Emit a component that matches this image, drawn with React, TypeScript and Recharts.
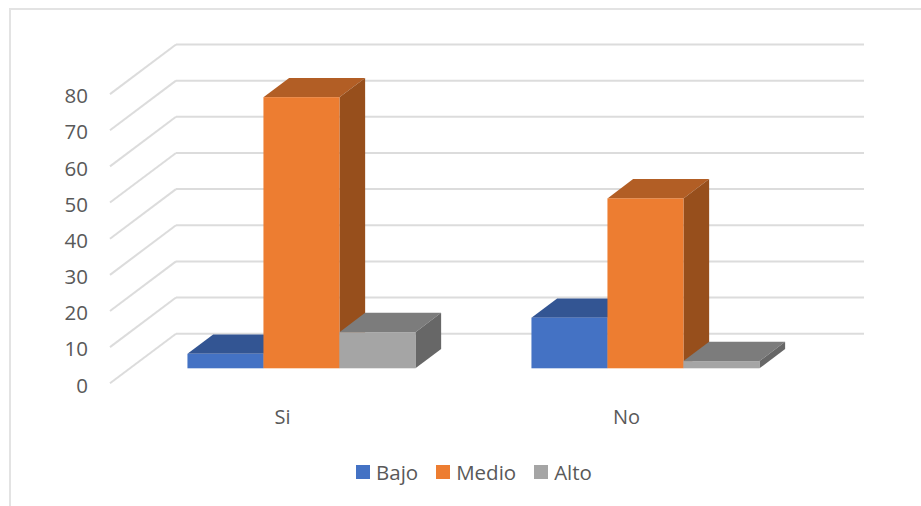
import React from "react";
import { BarChart, Bar, XAxis, YAxis, CartesianGrid, Legend } from "recharts";

const categories = ["Si", "No"];
const bajo = [4, 14];
const medio = [75, 47];
const alto = [10, 2];
const yTicks = [0, 10, 20, 30, 40, 50, 60, 70, 80];

const rows = categories.map((name, i) => ({ name, Bajo: bajo[i], Medio: medio[i], Alto: alto[i] }));

const FONT = "'Open Sans', sans-serif";
const TEXT = "#595959";
const GRID = "#DCDCDC";

// Oblique projection: the bars stand on a plane set back from the front edge of the floor.
const toFront = { dx: -20, dy: 15 };
const toBack = { dx: 46, dy: -34.6 };
const barDepth = { dx: 25.7, dy: -19.3 };

const faces = {
  Bajo: { front: "#4472C4", top: "#335593", side: "#2F528F" },
  Medio: { front: "#ED7D31", top: "#B25E25", side: "#974F1C" },
  Alto: { front: "#A5A5A5", top: "#7C7C7C", side: "#676767" },
};

const box = (colors: { front: string; top: string; side: string }) => (p: any) => {
  const { x, y, width: w, height: h } = p;
  const { dx, dy } = barDepth;
  return (
    <g>
      <polygon fill={colors.top} points={`${x},${y} ${x + dx},${y + dy} ${x + w + dx},${y + dy} ${x + w},${y}`} />
      <polygon fill={colors.side} points={`${x + w},${y} ${x + w + dx},${y + dy} ${x + w + dx},${y + h + dy} ${x + w},${y + h}`} />
      <rect x={x} y={y} width={w} height={h} fill={colors.front} />
    </g>
  );
};

// Each grid value draws the back-wall line and its diagonal along the side wall.
const wallLine = (p: any) => {
  const { x1, x2, y1 } = p;
  return (
    <g key={p.key ?? `${y1}`} stroke={GRID} strokeWidth={2} fill="none">
      <line x1={x1 + toBack.dx} x2={x2 + toBack.dx} y1={y1 + toBack.dy} y2={y1 + toBack.dy} />
      <line x1={x1 + toFront.dx} y1={y1 + toFront.dy} x2={x1 + toBack.dx} y2={y1 + toBack.dy} />
    </g>
  );
};

const ValueTick = (p: any) => (
  <text x={88} y={p.y + toFront.dy + 1.2} textAnchor="end" dominantBaseline="central" fontFamily={FONT} fontSize={20.5} fill={TEXT}>
    {p.payload.value}
  </text>
);

const CategoryTick = (p: any) => (
  <text x={p.x + toFront.dx + 0.5} y={416} textAnchor="middle" dominantBaseline="central" fontFamily={FONT} fontSize={20} fill={TEXT}>
    {p.payload.value}
  </text>
);

const LegendRow = (p: any) => (
  <div style={{ display: "flex", gap: 18, fontFamily: FONT, fontSize: 20.5, color: TEXT, whiteSpace: "nowrap" }}>
    {(p.payload ?? []).map((item: any) => (
      <div key={item.value} style={{ display: "flex", alignItems: "center", gap: 6, height: 28 }}>
        <span style={{ width: 14, height: 14, background: item.color, display: "block" }} />
        <span>{item.value}</span>
      </div>
    ))}
  </div>
);

export default function App() {
  return (
    <div style={{ position: "absolute", left: 0, top: 0, width: 921, height: 506, background: "#fff", overflow: "hidden" }}>
      <div style={{ position: "absolute", left: 9, top: 8, width: 920, height: 500, borderLeft: "2px solid #E3E3E3", borderTop: "2px solid #E3E3E3" }} />
      <BarChart
        width={921}
        height={506}
        data={rows}
        margin={{ top: 79.1, right: 103, bottom: 97.7, left: 0 }}
        barCategoryGap="16.7%"
        barGap={0}
        style={{ position: "absolute", left: 0, top: 0 }}
      >
        <CartesianGrid horizontal={wallLine} vertical={false} />
        <XAxis dataKey="name" height={40} axisLine={false} tickLine={false} tick={CategoryTick} interval={0} />
        <YAxis width={130} domain={[0, 80]} ticks={yTicks} interval={0} axisLine={false} tickLine={false} tick={ValueTick} />
        <Legend
          layout="horizontal"
          verticalAlign="middle"
          align="center"
          itemSorter={null}
          content={LegendRow}
          wrapperStyle={{ left: 356, top: 458, width: "auto" }}
        />
        <Bar dataKey="Bajo" fill={faces.Bajo.front} shape={box(faces.Bajo)} isAnimationActive={false} />
        <Bar dataKey="Medio" fill={faces.Medio.front} shape={box(faces.Medio)} isAnimationActive={false} />
        <Bar dataKey="Alto" fill={faces.Alto.front} shape={box(faces.Alto)} isAnimationActive={false} />
      </BarChart>
    </div>
  );
}
